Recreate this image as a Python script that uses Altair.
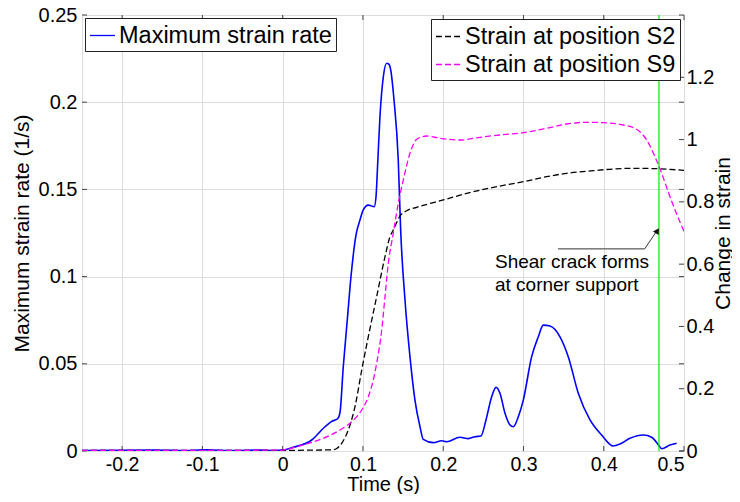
import altair as alt
import pandas as pd

FONT = "Liberation Sans"

# ---- data ----
blue_t = [-0.25, -0.2, -0.16, -0.12, -0.1, -0.09, -0.06, -0.03, -0.01, 0.0,
          0.0132, 0.0362, 0.0527, 0.0611, 0.0685, 0.0714, 0.0755, 0.0805, 0.0851,
          0.0914, 0.0963, 0.1004, 0.1067, 0.1141, 0.1163, 0.1184, 0.1212, 0.1254,
          0.1296, 0.1321, 0.1346, 0.1387, 0.1440, 0.1470, 0.1524, 0.1586, 0.1648,
          0.1711, 0.1752, 0.1877, 0.1981, 0.2043, 0.2209, 0.2313, 0.2396, 0.2471,
          0.2533, 0.2604, 0.2658, 0.2707, 0.2770, 0.2832, 0.2873, 0.2936, 0.2998,
          0.3102, 0.3185, 0.3247, 0.3330, 0.3455, 0.3558, 0.3683, 0.3829, 0.3974,
          0.4119, 0.4202, 0.4327, 0.4493, 0.4597, 0.4692, 0.4722, 0.4825, 0.4909]
blue_v = [0.0003, 0.0004, 0.0005, 0.0002, 0.0007, 0.0006, 0.0002, 0.0005, 0.0003, 0.0005,
          0.0021, 0.0063, 0.0139, 0.0170, 0.0185, 0.0220, 0.0483, 0.0751, 0.0999,
          0.1239, 0.1324, 0.1382, 0.1410, 0.1401, 0.1458, 0.1650, 0.1917, 0.2146,
          0.2223, 0.2219, 0.2185, 0.2013, 0.1669, 0.1267, 0.0866, 0.0541, 0.0292,
          0.0139, 0.0067, 0.0048, 0.0059, 0.0053, 0.0079, 0.0071, 0.0082, 0.0086,
          0.0178, 0.0311, 0.0365, 0.0331, 0.0216, 0.0149, 0.0139, 0.0197, 0.0292,
          0.0541, 0.0655, 0.0722, 0.0717, 0.0655, 0.0541, 0.0331, 0.0178, 0.0092,
          0.0029, 0.0040, 0.0073, 0.0092, 0.0079, 0.0029, 0.0013, 0.0034, 0.0044]

s2_t = [-0.25, -0.1, 0.0, 0.04, 0.063, 0.0673, 0.0735, 0.0839, 0.0901, 0.0985,
        0.1067, 0.1171, 0.1275, 0.1337, 0.1378, 0.1462, 0.1545, 0.1670, 0.2001,
        0.2293, 0.2624, 0.2998, 0.3289, 0.3538, 0.3870, 0.4119, 0.4368, 0.4660, 0.5]
s2_v = [0.002, 0.002, 0.002, 0.003, 0.004, 0.008, 0.0247, 0.0835, 0.1423, 0.2601,
        0.3670, 0.4955, 0.6239, 0.6881, 0.7096, 0.7546, 0.7716, 0.7825, 0.8060,
        0.8275, 0.8467, 0.8647, 0.8808, 0.8917, 0.9000, 0.9055, 0.9077, 0.9065, 0.9010]

s9_t = [-0.25, -0.1, 0.0, 0.0050, 0.0299, 0.0506, 0.0714, 0.0860, 0.0985, 0.1067,
        0.1129, 0.1171, 0.1234, 0.1275, 0.1316, 0.1378, 0.1440, 0.1503, 0.1586,
        0.1670, 0.1794, 0.1960, 0.2209, 0.2458, 0.2707, 0.2998, 0.3289, 0.3538,
        0.3788, 0.3994, 0.4244, 0.4410, 0.4535, 0.4638, 0.4722, 0.4825, 0.4971, 0.5]
s9_v = [0.002, 0.002, 0.003, 0.0055, 0.0225, 0.0408, 0.0674, 0.0941, 0.1317, 0.1744,
        0.2280, 0.2816, 0.3885, 0.4955, 0.6027, 0.6990, 0.7954, 0.8702, 0.9559,
        1.0009, 1.0115, 1.0041, 0.9986, 1.0073, 1.0147, 1.0221, 1.0362, 1.0500,
        1.0555, 1.0542, 1.0468, 1.0330, 0.9986, 0.9450, 0.8917, 0.8166, 0.7225, 0.7050]

blue_name = "Maximum strain rate"
strain_names = ["Strain at position S2", "Strain at position S9"]

crack_t = [0.4688]
ann_lines = ["Shear crack forms", "at corner support"]
ann_t = [0.2645, 0.2645]
ann_s = [0.588, 0.514]
arrow_t = [0.343, 0.451, 0.4660]
arrow_s = [0.649, 0.649, 0.706]
head_t = [0.4668]
head_s = [0.707]

x_ticks = [-0.2, -0.1, 0, 0.1, 0.2, 0.3, 0.4, 0.5]
left_ticks = [0, 0.05, 0.1, 0.15, 0.2, 0.25]
right_ticks = [0, 0.2, 0.4, 0.6, 0.8, 1.0, 1.2]

# ---- tables ----
blue_df = pd.DataFrame({"t": blue_t, "v": blue_v, "series": blue_name})
strain_df = pd.concat([
    pd.DataFrame({"t": s2_t, "s": s2_v, "series": strain_names[0]}),
    pd.DataFrame({"t": s9_t, "s": s9_v, "series": strain_names[1]}),
])
crack_df = pd.DataFrame({"t": crack_t})
ann_df = pd.DataFrame({"t": ann_t, "s": ann_s, "label": ann_lines})
arrow_df = pd.DataFrame({"t": arrow_t, "s": arrow_s, "o": list(range(len(arrow_t)))})
head_df = pd.DataFrame({"t": head_t, "s": head_s})
xt_df = pd.DataFrame({"t": x_ticks})
lt_df = pd.DataFrame({"v": left_ticks})
rt_df = pd.DataFrame({"s": right_ticks})

W, H = 602, 436
TL = 5  # inward tick length

xscale = alt.Scale(domain=[-0.25, 0.5], nice=False, zero=False)
yl_scale = alt.Scale(domain=[0, 0.25], nice=False, zero=False)
yr_scale = alt.Scale(domain=[0, 1.4], nice=False, zero=False)

x_axis = alt.Axis(values=x_ticks, title="Time (s)", labelExpr="'' + datum.value",
                  grid=True, ticks=False, domain=False, labelPadding=4,
                  labelFontSize=19.5, titleFontSize=20, titleX=W / 2, titleY=39,
                  titleBaseline="alphabetic", titleFontWeight="normal")
yl_axis = alt.Axis(values=left_ticks, title="Maximum strain rate (1/s)",
                   labelExpr="'' + datum.value", grid=True, ticks=False, domain=False,
                   labelPadding=5, labelFontSize=20, titleFontSize=21,
                   titleX=-54, titleY=H / 2, titleAngle=270, titleAlign="center",
                   titleBaseline="alphabetic", titleFontWeight="normal")
yr_axis = alt.Axis(values=right_ticks, orient="right", title="Change in strain",
                   labelExpr="'' + datum.value", grid=False, ticks=False, domain=False,
                   labelPadding=2, labelFontSize=20, titleFontSize=21,
                   titleX=45, titleY=H / 2, titleAngle=270, titleAlign="center",
                   titleBaseline="alphabetic", titleFontWeight="normal")

X = lambda: alt.X("t:Q", scale=xscale, axis=x_axis)
YL = lambda: alt.Y("v:Q", scale=yl_scale, axis=yl_axis)
YR = lambda: alt.Y("s:Q", scale=yr_scale, axis=yr_axis)

# ---- left (strain rate) group ----
blue = alt.Chart(blue_df).mark_line(strokeWidth=1.6, interpolate="monotone", clip=True).encode(
    x=X(), y=YL(),
    color=alt.Color("series:N",
                    scale=alt.Scale(domain=[blue_name], range=["#0000ff"]),
                    legend=alt.Legend(title=None, orient="top-left", offset=3,
                                      fillColor="white", strokeColor="#222",
                                      padding=4, labelFont=FONT, labelFontSize=23.5,
                                      labelLimit=400, symbolType="stroke",
                                      symbolSize=625, symbolStrokeWidth=1.3,
                                      labelOffset=3)),
)
green = alt.Chart(crack_df).mark_rule(color="#00ee00", strokeWidth=1.2).encode(x=X())
xt_bot = alt.Chart(xt_df).mark_rule(color="#444").encode(x=X(), y=alt.value(H), y2=alt.value(H - TL))
xt_top = alt.Chart(xt_df).mark_rule(color="#444").encode(x=X(), y=alt.value(0), y2=alt.value(TL))
lt_left = alt.Chart(lt_df).mark_rule(color="#444").encode(y=YL(), x=alt.value(0), x2=alt.value(TL))
lt_right = alt.Chart(lt_df).mark_rule(color="#444").encode(y=YL(), x=alt.value(W), x2=alt.value(W - TL))

left_group = alt.layer(xt_bot, xt_top, lt_left, lt_right, blue, green)

# ---- right (strain) group ----
strain = alt.Chart(strain_df).mark_line(strokeWidth=1.3, strokeDash=[6, 3],
                                        interpolate="monotone", clip=True).encode(
    x=X(), y=YR(),
    color=alt.Color("series:N",
                    scale=alt.Scale(domain=strain_names, range=["#000000", "#ff00ff"]),
                    legend=alt.Legend(title=None, orient="top-right", offset=4,
                                      fillColor="white", strokeColor="#222",
                                      padding=4, labelFont=FONT, labelFontSize=23.5,
                                      labelLimit=400, symbolType="stroke",
                                      symbolSize=625, symbolStrokeWidth=1.3,
                                      symbolDash=[6, 3], labelOffset=3, rowPadding=3)),
)
rt_right = alt.Chart(rt_df).mark_rule(color="#444").encode(y=YR(), x=alt.value(W), x2=alt.value(W - TL))
arrow = alt.Chart(arrow_df).mark_line(color="#333", strokeWidth=1).encode(x=X(), y=YR(), order="o:Q")
head = alt.Chart(head_df).mark_point(shape="triangle-up", filled=True, color="#111",
                                     size=45, angle=32, opacity=1).encode(x=X(), y=YR())
ann = alt.Chart(ann_df).mark_text(align="left", baseline="alphabetic", font=FONT,
                                  fontSize=19, color="#000").encode(x=X(), y=YR(), text="label:N")

right_group = alt.layer(rt_right, strain, arrow, head, ann)

chart = alt.layer(left_group, right_group).resolve_scale(
    y="independent", color="independent"
).properties(
    width=W, height=H,
    autosize=alt.AutoSizeParams(type="none"),
    padding={"left": 74, "top": 7, "right": 48, "bottom": 43},
).configure_view(
    stroke="#444", strokeWidth=1
).configure_axis(
    labelFont=FONT, titleFont=FONT, labelColor="#000", titleColor="#000",
    gridColor="#a8a8a8", gridDash=[1, 2], gridWidth=1, gridOpacity=1,
).configure(background="white")

chart.save("out.html", embed_options={"renderer": "svg", "actions": False})
